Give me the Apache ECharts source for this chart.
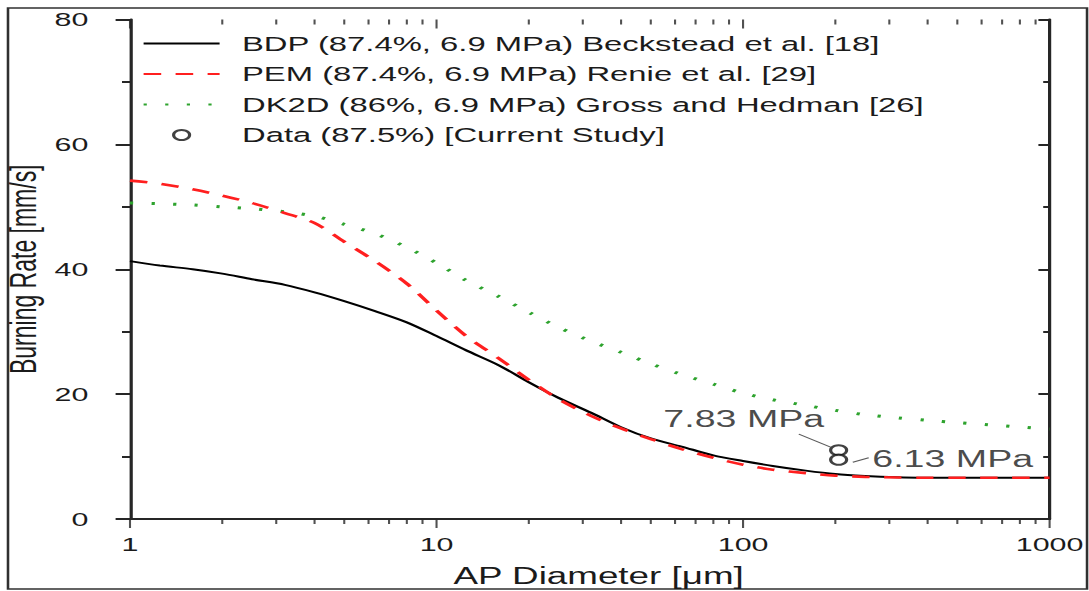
<!DOCTYPE html>
<html>
<head>
<meta charset="utf-8">
<script src="https://cdn.jsdelivr.net/npm/echarts@6/dist/echarts.min.js"></script>
<style>
  html, body { margin: 0; padding: 0; background: #fff; overflow: hidden; }
  /* The figure is laid out in a narrow frame and widened horizontally. */
  #chart { width: 680.625px; height: 591px; transform: scaleX(1.6); transform-origin: 0 0; }
</style>
</head>
<body>
<div id="chart"></div>
<script>
// AP particle diameter [µm], ten samples per decade
const diameters = [1, 1.25, 1.6, 2, 2.5, 3.2, 4, 5, 6.3, 8,
                   10, 12.5, 16, 20, 25, 32, 40, 50, 63, 80,
                   100, 125, 160, 200, 250, 320, 400, 500, 630, 800, 1000];
// Burning rate [mm/s] predicted by each model
const bdpRate  = [41.3, 40.6, 40.0, 39.3, 38.4, 37.5, 36.3, 34.9, 33.3, 31.5,
                  29.3, 27.0, 24.6, 21.9, 19.4, 17.0, 14.7, 12.9, 11.6, 10.2,
                  9.3, 8.5, 7.75, 7.2, 6.9, 6.7, 6.62, 6.6, 6.6, 6.6, 6.6];
const pemRate  = [54.2, 53.7, 52.8, 51.8, 50.6, 49.0, 47.4, 44.4, 41.3, 37.7,
                  33.4, 29.3, 25.7, 22.3, 19.2, 16.5, 14.5, 12.8, 11.2, 9.8,
                  8.7, 7.9, 7.35, 6.95, 6.75, 6.65, 6.6, 6.6, 6.6, 6.6, 6.6];
const dk2dRate = [50.6, 50.5, 50.3, 50.0, 49.7, 49.2, 48.5, 47.2, 45.7, 43.5,
                  41.0, 38.2, 35.6, 33.1, 30.7, 28.45, 26.7, 24.85, 23.15, 21.6,
                  20.15, 19.1, 18.2, 17.4, 16.7, 16.2, 15.8, 15.45, 15.1, 14.75, 14.4];

// Measured points
const dataDiameter = [205, 205];
const dataRate = [11.0, 9.5];
const dataPressure = ['7.83 MPa', '6.13 MPa'];

// Leader lines from the pressure labels to the measured points
const leaderUpper = [[152, 13.6], [193, 11.5]];
const leaderLower = [[228, 9.1], [257, 9.8]];

// Axis ticks
const yTicks = { min: 0, max: 80, step: 20 };
const xMajorTicks = [1, 10, 100, 1000];
const xMinorTicks = [];
for (const decade of [1, 10, 100]) {
  for (let k = 2; k <= 9; k++) xMinorTicks.push(k * decade);
}

const seriesNames = [
  'BDP (87.4%, 6.9 MPa) Beckstead et al. [18]',
  'PEM (87.4%, 6.9 MPa) Renie et al. [29]',
  'DK2D (86%, 6.9 MPa) Gross and Hedman [26]',
  'Data (87.5%) [Current Study]'
];

const FONT = 'Liberation Sans, Arial, Helvetica, sans-serif';
const INK = '#1b1b1b';
const AXIS = '#262626';

const pairs = (xs, ys) => xs.map((x, i) => [x, ys[i]]);

// Tick marks on the log axes, hanging downward from the given rate level
function tickMarks(values, level, len) {
  return {
    type: 'scatter', silent: true, clip: false, z: 7,
    symbol: 'rect', symbolSize: [1.3, len], symbolOffset: [0, len / 2],
    itemStyle: { color: AXIS },
    emphasis: { disabled: true },
    data: values.map(v => [v, level])
  };
}

function logAxis(extra) {
  return Object.assign({
    type: 'log', logBase: 10, min: 1, max: 1000,
    splitLine: { show: false },
    minorTick: { show: false },
    axisLabel: { show: false },
    axisLine: { show: false },
    axisTick: { show: false }
  }, extra);
}

const chart = echarts.init(document.getElementById('chart'), null, { renderer: 'svg' });

chart.setOption({
  animation: false,
  backgroundColor: '#fff',
  textStyle: { fontFamily: FONT },
  grid: { left: 81.25, right: 25, top: 19.5, bottom: 72, containLabel: false, outerBoundsMode: 'none' },
  graphic: [{
    type: 'rect',
    shape: { x: 5, y: 8, width: 674.4, height: 581 },
    style: { fill: 'none', stroke: '#303030', lineWidth: 1.6 },
    silent: true
  }],
  legend: {
    orient: 'vertical',
    left: 83.75,
    top: 28,
    itemWidth: 47.5,
    itemHeight: 10,
    itemGap: 9.5,
    textStyle: { fontSize: 20.5, color: INK, fontFamily: FONT, padding: [0, 0, 0, 9] },
    data: [
      { name: seriesNames[0], itemStyle: { opacity: 0 } },
      { name: seriesNames[1], itemStyle: { opacity: 0 } },
      { name: seriesNames[2], itemStyle: { opacity: 0 } },
      { name: seriesNames[3] }
    ]
  },
  xAxis: [
    logAxis({
      position: 'bottom',
      axisLine: { show: true, lineStyle: { color: AXIS, width: 2 } },
      axisLabel: { show: true, fontSize: 19, color: INK, margin: 16, fontFamily: FONT,
                   formatter: v => String(Math.round(v)) },
      name: 'AP Diameter [μm]',
      nameLocation: 'middle',
      nameGap: 46,
      nameMoveOverlap: false,
      nameTextStyle: { fontSize: 23, color: INK, fontFamily: FONT, padding: [0, 0, 0, 11] }
    }),
    logAxis({
      position: 'top',
      axisLine: { show: true, lineStyle: { color: AXIS, width: 2 } }
    })
  ],
  yAxis: [
    {
      type: 'value', position: 'left',
      min: yTicks.min, max: yTicks.max, interval: yTicks.step,
      splitLine: { show: false },
      axisLine: { show: true, lineStyle: { color: AXIS, width: 2 } },
      axisTick: { show: true, length: 9, lineStyle: { color: AXIS, width: 2 } },
      minorTick: { show: true, splitNumber: 2, length: 5, lineStyle: { color: AXIS, width: 2 } },
      axisLabel: { fontSize: 19, color: INK, margin: 26, fontFamily: FONT },
      name: 'Burning Rate [mm/s]',
      nameLocation: 'middle',
      nameRotate: 90,
      nameGap: 55,
      nameMoveOverlap: false,
      nameTextStyle: { fontSize: 23, color: INK, fontFamily: FONT }
    },
    {
      type: 'value', position: 'right',
      min: yTicks.min, max: yTicks.max, interval: yTicks.step,
      splitLine: { show: false },
      axisLine: { show: true, lineStyle: { color: AXIS, width: 2 } },
      axisTick: { show: true, inside: true, length: 7, lineStyle: { color: AXIS, width: 2 } },
      minorTick: { show: true, splitNumber: 2, length: 4, lineStyle: { color: AXIS, width: 2 } },
      axisLabel: { show: false }
    }
  ],
  series: [
    {
      name: seriesNames[0], type: 'line', symbol: 'none', smooth: 0.3,
      color: '#000',
      lineStyle: { color: '#000', width: 2 },
      data: pairs(diameters, bdpRate), z: 4
    },
    {
      name: seriesNames[1], type: 'line', symbol: 'none', smooth: 0.3,
      color: '#ff1f1f',
      lineStyle: { color: '#ff1f1f', width: 2.6, type: [11, 9] },
      data: pairs(diameters, pemRate), z: 5
    },
    {
      name: seriesNames[2], type: 'line', symbol: 'none', smooth: 0.3,
      color: '#2ea32e',
      lineStyle: { color: '#2ea32e', width: 3, type: [2, 11.5] },
      data: pairs(diameters, dk2dRate), z: 3
    },
    {
      name: seriesNames[3], type: 'scatter',
      symbol: 'emptyCircle', symbolSize: 10,
      color: '#111',
      itemStyle: { color: '#111', borderColor: '#111', borderWidth: 2.2 },
      z: 6,
      data: dataDiameter.map((d, i) => ({
        value: [d, dataRate[i]],
        label: i === 0
          ? { show: true, formatter: dataPressure[i], position: 'left', distance: 3, offset: [0, -31],
              fontSize: 23.5, color: INK, fontFamily: FONT }
          : { show: true, formatter: dataPressure[i], position: 'right', distance: 15, offset: [0, -1],
              fontSize: 23.5, color: INK, fontFamily: FONT }
      })),
      markLine: {
        silent: true,
        symbol: 'none',
        label: { show: false },
        lineStyle: { color: '#5a5a5a', width: 1, type: 'solid' },
        data: [
          [{ coord: leaderUpper[0] }, { coord: leaderUpper[1] }],
          [{ coord: leaderLower[0] }, { coord: leaderLower[1] }]
        ]
      }
    },
    // bottom axis: outward ticks; top axis: inward ticks
    tickMarks(xMajorTicks, yTicks.min, 9),
    tickMarks(xMinorTicks, yTicks.min, 5),
    tickMarks(xMajorTicks, yTicks.max, 9),
    tickMarks(xMinorTicks, yTicks.max, 5)
  ]
});
</script>
</body>
</html>
